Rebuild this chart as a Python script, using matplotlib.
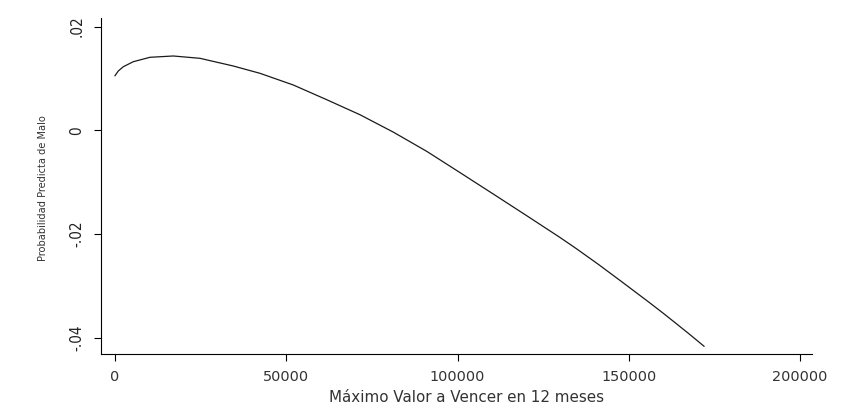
import matplotlib
matplotlib.use("Agg")
import matplotlib.pyplot as plt

# valores
max_valor = [0, 960, 2420, 5340, 10220, 17020, 24820, 34540, 42340, 52060,
             61810, 71530, 81260, 91010, 100730, 110450, 120200, 129930,
             134800, 141110, 147940, 151820, 155710, 160090, 163500, 167390,
             171970]
prob_malo = [0.01052, 0.01143, 0.01225, 0.01322, 0.01407, 0.01432, 0.01387,
             0.01239, 0.01098, 0.00873, 0.00590, 0.00300, -0.00035, -0.00405,
             -0.00815, -0.01228, -0.01645, -0.02065, -0.02285, -0.02582,
             -0.02917, -0.03110, -0.03303, -0.03526, -0.03705, -0.03911,
             -0.04160]

xticks = [0, 50000, 100000, 150000, 200000]
xtick_labels = ['0', '50000', '100000', '150000', '200000']
yticks = [-0.04, -0.02, 0, 0.02]
ytick_labels = ['-.04', '-.02', '0', '.02']

xlabel = 'Máximo Valor a Vencer en 12 meses'
ylabel = 'Probabilidad Predicta de Malo'

W, H = 842, 407
fig = plt.figure(figsize=(W / 100, H / 100), dpi=100)
ax = fig.add_axes([101 / W, 1 - 354.3 / H, (812 - 101) / W, (354.3 - 18) / H])

ax.plot(max_valor, prob_malo, color='#1a1a1a', linewidth=0.9)

ax.set_xlim(-4088, 203504)
ax.set_ylim(-0.04316, 0.02164)

for side in ['top', 'right']:
    ax.spines[side].set_visible(False)
for side in ['left', 'bottom']:
    ax.spines[side].set_linewidth(0.8)
    ax.spines[side].set_color('black')

ax.set_xticks(xticks)
ax.set_xticklabels(xtick_labels, fontsize=10.4, color='#333333', family='DejaVu Sans')
ax.set_yticks(yticks)
ax.set_yticklabels(ytick_labels, fontsize=11, color='#222222', family='DejaVu Sans',
                   fontstretch='condensed', rotation=90, va='center')
ax.tick_params(axis='both', direction='out', length=5, width=0.8, color='black')
ax.tick_params(axis='x', pad=6)
ax.tick_params(axis='y', pad=7)

fig.text(467 / W, 1 - 398 / H, xlabel, ha='center', va='center',
         fontsize=10.9, color='#333333', family='DejaVu Sans')
fig.text(43 / W, 1 - 188 / H, ylabel, ha='center', va='center', rotation=90,
         fontsize=7.8, color='#333333', family='DejaVu Sans', fontstretch='condensed')

fig.savefig('out.png', dpi=100)
